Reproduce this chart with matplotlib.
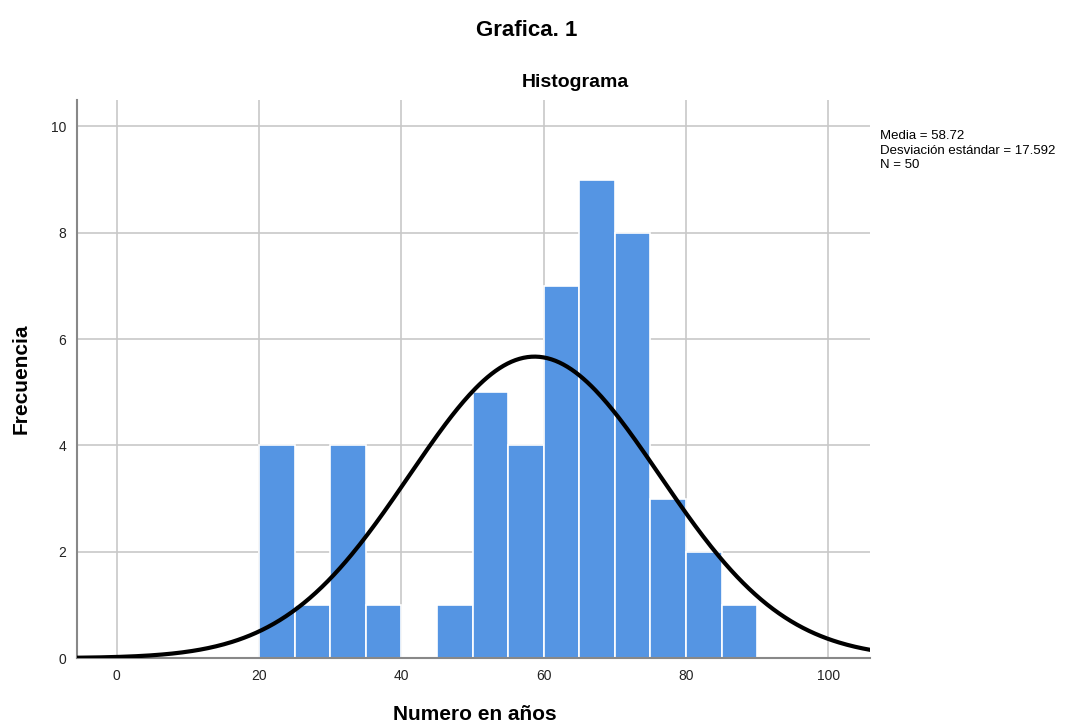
import numpy as np
import matplotlib.pyplot as plt

plt.rcParams['font.family'] = ['Liberation Sans', 'DejaVu Sans']

# Age histogram (bins of 5 years) with fitted normal curve
bin_edges = [20, 25, 30, 35, 40, 45, 50, 55, 60, 65, 70, 75, 80, 85, 90]
counts = [4, 1, 4, 1, 0, 1, 5, 4, 7, 9, 8, 3, 2, 1]
media = 58.72
desv = 17.592
n = 50

fig = plt.figure(figsize=(10.85, 7.28), dpi=100, facecolor='w')
ax = fig.add_axes([0.071, 0.096, 0.731, 0.767])

lefts = np.array(bin_edges[:-1])
widths = np.diff(bin_edges)
ax.bar(lefts, counts, width=widths, align='edge', color='#5595e3',
       edgecolor='white', linewidth=1.2, zorder=2)

# normal curve scaled to counts
xs = np.linspace(-6, 106, 400)
w = widths[0]
ys = n * w / (desv * np.sqrt(2 * np.pi)) * np.exp(-0.5 * ((xs - media) / desv) ** 2)
ax.plot(xs, ys, color='black', linewidth=3, zorder=3)

ax.set_xlim(-5.6, 105.9)
ax.set_ylim(0, 10.5)
ax.set_xticks(range(0, 101, 20))
ax.set_yticks(range(0, 11, 2))
ax.tick_params(length=0, labelsize=10, colors='#222222', pad=8)
ax.grid(True, color='#c8c8c8', linewidth=1.2, zorder=0)
ax.set_axisbelow(True)
for s in ['top', 'right']:
    ax.spines[s].set_visible(False)
ax.spines['left'].set_color('#888888')
ax.spines['bottom'].set_color('#888888')
ax.spines['left'].set_linewidth(1.5)
ax.spines['bottom'].set_linewidth(1.5)

ax.set_ylabel('Frecuencia', fontsize=15, fontweight='bold', labelpad=14)
fig.text(0.438, 0.018, 'Numero en años', fontsize=15, fontweight='bold',
         ha='center', va='center')
fig.text(0.530, 0.887, 'Histograma', fontsize=14, fontweight='bold',
         ha='center', va='center')

fig.text(0.811, 0.821,
         'Media = %.2f\nDesviación estándar = %.3f\nN = %d' % (media, desv, n),
         fontsize=9.5, va='top', ha='left', linespacing=1.25)
fig.text(0.485, 0.958, 'Grafica. 1', fontsize=16, fontweight='bold',
         ha='center', va='center')

plt.savefig('out.png', dpi=100)
